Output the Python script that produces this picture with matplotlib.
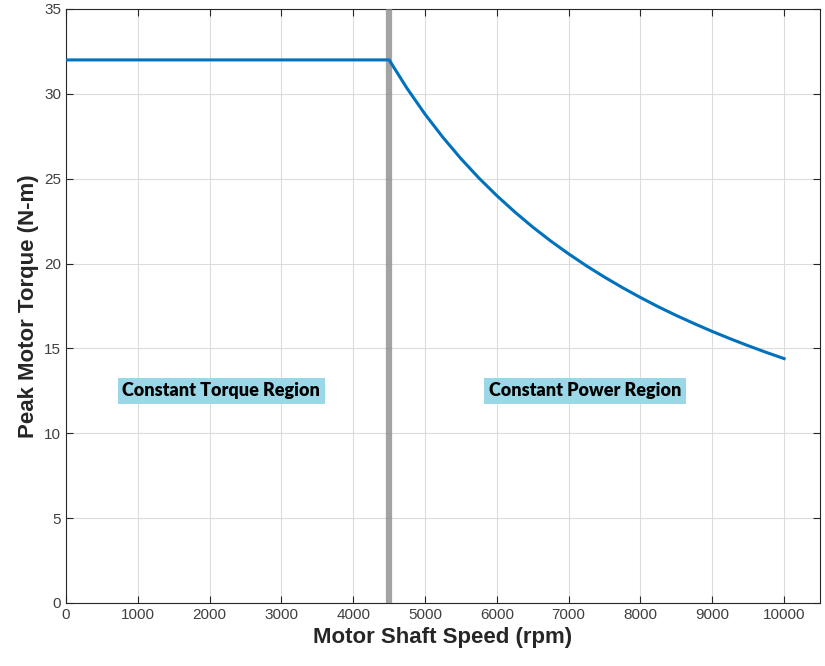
import matplotlib
matplotlib.use('Agg')
import matplotlib.pyplot as plt

plt.rcParams['font.family'] = ['Liberation Sans', 'DejaVu Sans']

# 속도-토크 특성
speed = [0, 4500, 4750, 5000, 5250, 5500, 5750, 6000, 6250, 6500, 6750, 7000, 7250,
         7500, 7750, 8000, 8250, 8500, 8750, 9000, 9250, 9500, 9750, 10000]
torque = [32, 32, 30.32, 28.8, 27.43, 26.18, 25.04, 24.0, 23.04, 22.15, 21.33, 20.57, 19.86,
          19.2, 18.58, 18.0, 17.45, 16.94, 16.46, 16.0, 15.57, 15.16, 14.77, 14.4]

base_speed = 4500
region_labels = ['Constant Torque Region', 'Constant Power Region']
region_x = [2160, 7230]
region_y = [12.5, 12.5]

x_ticks = list(range(0, 10001, 1000))
y_ticks = list(range(0, 36, 5))

fig = plt.figure(figsize=(8.25, 6.66), dpi=100)
ax = fig.add_axes([66 / 825, 63 / 666, 754 / 825, 594 / 666])

ax.plot(speed, torque, color='#0072BD', lw=2.2, zorder=4)
ax.axvline(base_speed, color='#8c8c8c', lw=4.5, alpha=0.8, zorder=3)

for label, x, y in zip(region_labels, region_x, region_y):
    ax.text(x, y, label, ha='center', va='center', fontsize=13, fontweight='heavy',
            family=['Lato', 'DejaVu Sans'],
            bbox=dict(boxstyle='square,pad=0.25', facecolor='#9ad8e8', edgecolor='none'),
            zorder=5)

ax.set_xlim(0, 10500)
ax.set_ylim(0, 35)
ax.set_xticks(x_ticks)
ax.set_yticks(y_ticks)
ax.tick_params(direction='in', top=True, right=True, labelsize=11, colors='#262626',
               labelcolor='#404040', length=5)
ax.grid(True, color='#dcdcdc', lw=0.8)
for s in ax.spines.values():
    s.set_color('#262626')
    s.set_linewidth(0.8)

ax.set_xlabel('Motor Shaft Speed (rpm)', fontsize=16, fontweight='bold', color='#262626')
ax.set_ylabel('Peak Motor Torque (N-m)', fontsize=16, fontweight='bold', color='#262626')

fig.savefig('out.png', dpi=100)
